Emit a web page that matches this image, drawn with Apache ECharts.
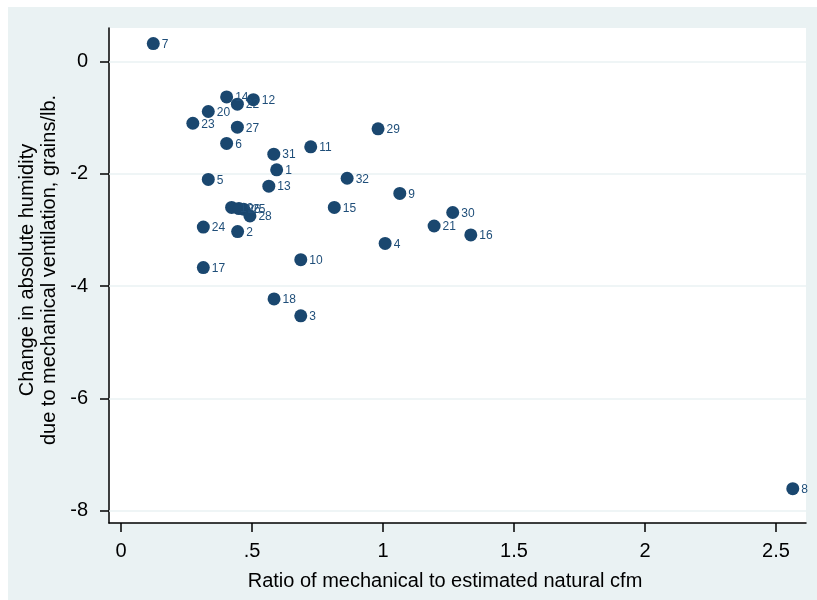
<!DOCTYPE html>
<html>
<head>
<meta charset="utf-8">
<script src="https://cdn.jsdelivr.net/npm/echarts@6/dist/echarts.min.js"></script>
<style>
html,body{margin:0;padding:0;background:#fff;}
#chart{width:817px;height:600px;}
</style>
</head>
<body>
<div id="chart"></div>
<script>
// Data
var pointIds = ['1','2','3','4','5','6','7','8','9','10','11','12','13','14','15','16',
                '17','18','19','20','21','22','23','24','25','26','27','28','29','30','31','32'];
var ratioValues = [0.594, 0.445, 0.686, 1.008, 0.333, 0.403, 0.123, 2.564, 1.064, 0.686, 0.724, 0.505, 0.564, 0.403, 0.814, 1.335,
                   0.314, 0.584, 0.422, 0.333, 1.195, 0.444, 0.274, 0.314, 0.468, 0.450, 0.444, 0.492, 0.981, 1.266, 0.583, 0.863];
var humidityValues = [-1.93, -3.03, -4.53, -3.24, -2.10, -1.46, 0.32, -7.61, -2.35, -3.53, -1.52, -0.68, -2.22, -0.63, -2.60, -3.09,
                      -3.67, -4.23, -2.60, -0.89, -2.93, -0.76, -1.10, -2.95, -2.63, -2.62, -1.17, -2.75, -1.20, -2.69, -1.65, -2.08];
var xTickValues = [0, 0.5, 1, 1.5, 2, 2.5];
var xTickLabels = ['0', '.5', '1', '1.5', '2', '2.5'];
var yTickValues = [-8, -6, -4, -2, 0];
var yTickLabels = ['-8', '-6', '-4', '-2', '0'];
var xTitle = 'Ratio of mechanical to estimated natural cfm';
var yTitleLines = ['Change in absolute humidity', 'due to mechanical ventilation, grains/lb.'];

var points = pointIds.map(function (id, i) { return [ratioValues[i], humidityValues[i], id]; });

var chart = echarts.init(document.getElementById('chart'), null, {renderer: 'canvas'});
var font = '"Liberation Sans", Arial, sans-serif';
chart.setOption({
  animation: false,
  backgroundColor: '#ffffff',
  graphic: [
    {type: 'rect', z: -10, shape: {x: 8, y: 7, width: 809, height: 593}, style: {fill: '#eaf2f3'}, silent: true},
    {type: 'text', x: 445, y: 581, style: {text: xTitle, font: '20px ' + font, fill: '#000', align: 'center', verticalAlign: 'middle'}},
    {type: 'text', x: 38, y: 270, rotation: Math.PI / 2,
     style: {text: yTitleLines.join('\n'), font: '20px ' + font, fill: '#000', align: 'center', verticalAlign: 'middle', lineHeight: 22}}
  ],
  grid: {left: 109, top: 28, width: 697, height: 495, show: true, backgroundColor: '#ffffff', borderWidth: 0},
  xAxis: {
    type: 'value', min: -0.046, max: 2.6145,
    axisLine: {show: true, onZero: false, lineStyle: {color: '#000', width: 1.5}},
    axisTick: {show: true, length: 9, customValues: xTickValues, lineStyle: {color: '#000', width: 1.5}},
    axisLabel: {customValues: xTickValues, margin: 18, fontSize: 20, fontFamily: font, color: '#000',
      formatter: function (v) { var k = xTickValues.indexOf(v); return k >= 0 ? xTickLabels[k] : ''; }},
    splitLine: {show: false}
  },
  yAxis: {
    type: 'value', min: -8.221, max: 0.597,
    axisLine: {show: true, onZero: false, lineStyle: {color: '#000', width: 1.5}},
    axisTick: {show: true, length: 9, customValues: yTickValues, lineStyle: {color: '#000', width: 1.5}},
    axisLabel: {customValues: yTickValues, margin: 21, fontSize: 20, fontFamily: font, color: '#000',
      formatter: function (v) { var k = yTickValues.indexOf(v); return k >= 0 ? yTickLabels[k] : ''; }},
    splitLine: {show: false}
  },
  series: [{
    type: 'scatter',
    data: points,
    symbol: 'circle',
    symbolSize: 13,
    itemStyle: {color: '#1a476f', opacity: 1},
    label: {
      show: true, position: 'right', distance: 2, offset: [0, 1],
      fontSize: 12, fontFamily: font, color: '#1f4e79',
      formatter: function (p) { return p.data[2]; }
    },
    markLine: {
      silent: true, symbol: 'none', label: {show: false},
      lineStyle: {color: '#eaf2f3', width: 1.5, type: 'solid'},
      data: yTickValues.map(function (v) { return {yAxis: v}; })
    },
    z: 5
  }]
});
</script>
</body>
</html>
